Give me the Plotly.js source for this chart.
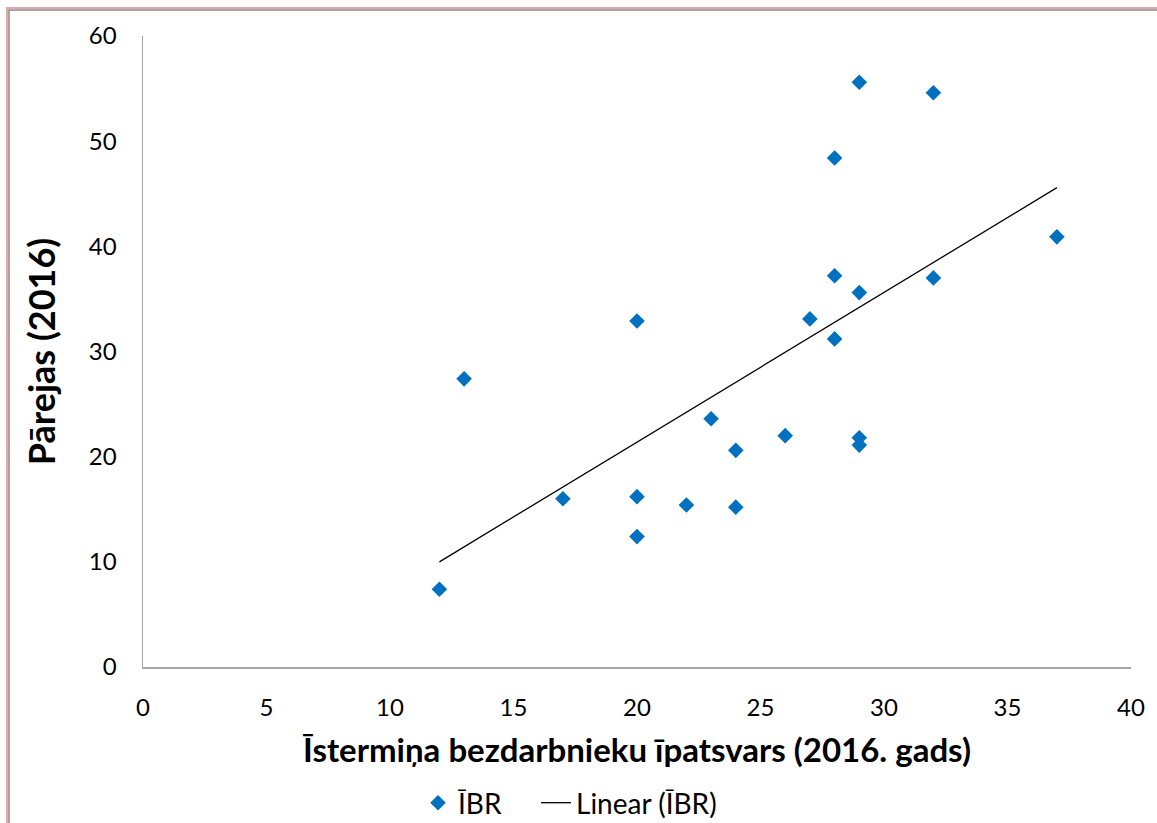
<!DOCTYPE html>
<html>
<head>
<meta charset="utf-8">
<script src="https://cdn.plot.ly/plotly-3.0.1.min.js"></script>
<style>
html,body{margin:0;padding:0;background:#fff;width:1157px;height:823px;overflow:hidden;}
#frame1{position:absolute;left:6px;top:7px;width:1200px;height:900px;border-top:2px solid #E3A9A9;border-left:2px solid #E3A9A9;}
#frame2{position:absolute;left:8px;top:9px;width:1200px;height:900px;border-top:2px solid #A6A6A6;border-left:2px solid #A6A6A6;}
#chart{position:absolute;left:0;top:0;width:1157px;height:823px;}
</style>
</head>
<body>
<div id="frame1"></div>
<div id="frame2"></div>
<div id="chart"></div>
<script>
const xValues = [12, 13, 17, 20, 20, 20, 22, 23, 24, 24, 26, 27, 28, 28, 28, 29, 29, 29, 29, 32, 32, 37];
const yValues = [7.4, 27.4, 16.0, 32.9, 16.2, 12.4, 15.4, 23.6, 20.6, 15.2, 22.0, 33.1, 48.4, 37.2, 31.2, 55.6, 35.6, 21.8, 21.1, 54.6, 37.0, 40.9];
const seriesName = "ĪBR";
const trendName = "Linear (ĪBR)";
const xTitle = "Īstermiņa bezdarbnieku īpatsvars (2016. gads)";
const yTitle = "Pārejas (2016)";

// least-squares linear trendline
const n = xValues.length;
const mx = xValues.reduce((a, b) => a + b, 0) / n;
const my = yValues.reduce((a, b) => a + b, 0) / n;
let sxy = 0, sxx = 0;
for (let i = 0; i < n; i++) { sxy += (xValues[i] - mx) * (yValues[i] - my); sxx += (xValues[i] - mx) ** 2; }
const slope = sxy / sxx, intercept = my - slope * mx;
const xMin = Math.min(...xValues), xMax = Math.max(...xValues);
const trendX = [xMin, xMax];
const trendY = trendX.map(x => intercept + slope * x);

const font = "Lato, 'Open Sans', sans-serif";
const legFont = {family: font, size: 28, color: '#000'};

const data = [
  {x: xValues, y: yValues, type: 'scatter', mode: 'markers', name: seriesName, legend: 'legend',
   marker: {symbol: 'diamond', size: 12, color: '#0070C0', line: {width: 0}}},
  {x: trendX, y: trendY, type: 'scatter', mode: 'lines', name: trendName, legend: 'legend2',
   line: {color: '#000000', width: 1.3}}
];

const layout = {
  width: 1157, height: 823,
  margin: {l: 143, r: 26, t: 36, b: 156},
  paper_bgcolor: 'rgba(0,0,0,0)', plot_bgcolor: 'rgba(0,0,0,0)',
  font: {family: font, size: 24, color: '#000'},
  showlegend: true,
  legend: {orientation: 'h', xref: 'container', yref: 'container', x: 418 / 1157, xanchor: 'left',
           y: 20 / 823, yanchor: 'middle', font: legFont, itemwidth: 30, bgcolor: 'rgba(0,0,0,0)'},
  legend2: {orientation: 'h', xref: 'container', yref: 'container', x: 536 / 1157, xanchor: 'left',
           y: 20 / 823, yanchor: 'middle', font: legFont, itemwidth: 30, bgcolor: 'rgba(0,0,0,0)'},
  xaxis: {range: [0, 40], dtick: 5, tick0: 0, showgrid: false, zeroline: false, automargin: false,
          showline: true, linecolor: '#A6A6A6', linewidth: 1.5, ticks: '',
          ticklabelstandoff: 19, tickfont: {family: font, size: 24, color: '#000'},
          title: {text: xTitle, standoff: 18, font: {family: font, size: 33, color: '#000', weight: 'bold'}}},
  yaxis: {range: [0, 60], dtick: 10, tick0: 0, showgrid: false, zeroline: false, automargin: false,
          showline: true, linecolor: '#A6A6A6', linewidth: 1.5, ticks: '',
          ticklabelstandoff: 20, tickfont: {family: font, size: 24, color: '#000'},
          title: {text: yTitle, standoff: 22, font: {family: font, size: 36, color: '#000', weight: 'bold'}}}
};

Plotly.newPlot('chart', data, layout, {displayModeBar: false, staticPlot: true});
</script>
</body>
</html>
